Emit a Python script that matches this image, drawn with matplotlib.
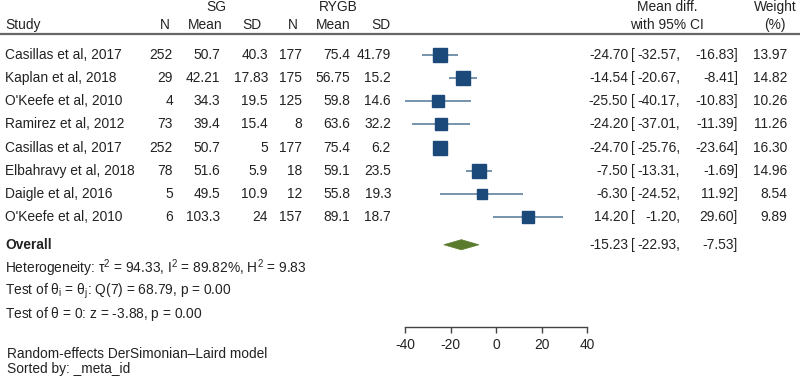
import matplotlib
matplotlib.use("Agg")
import matplotlib.pyplot as plt
from matplotlib.transforms import blended_transform_factory
from matplotlib.patches import Polygon
import numpy as np

plt.rcParams['font.family'] = ['Liberation Sans', 'DejaVu Sans']
plt.rcParams['mathtext.fontset'] = 'custom'
plt.rcParams['mathtext.rm'] = 'Liberation Sans'
plt.rcParams['mathtext.it'] = 'Liberation Sans:italic'

# ---------------- data ----------------
studies = ["Casillas et al, 2017", "Kaplan et al, 2018", "O'Keefe et al, 2010",
           "Ramirez et al, 2012", "Casillas et al, 2017", "Elbahravy et al, 2018",
           "Daigle et al, 2016", "O'Keefe et al, 2010"]
sg_n = ["252", "29", "4", "73", "252", "78", "5", "6"]
sg_mean = ["50.7", "42.21", "34.3", "39.4", "50.7", "51.6", "49.5", "103.3"]
sg_sd = ["40.3", "17.83", "19.5", "15.4", "5", "5.9", "10.9", "24"]
rygb_n = ["177", "175", "125", "8", "177", "18", "12", "157"]
rygb_mean = ["75.4", "56.75", "59.8", "63.6", "75.4", "59.1", "55.8", "89.1"]
rygb_sd = ["41.79", "15.2", "14.6", "32.2", "6.2", "23.5", "19.3", "18.7"]
est = [-24.70, -14.54, -25.50, -24.20, -24.70, -7.50, -6.30, 14.20]
lo = [-32.57, -20.67, -40.17, -37.01, -25.76, -13.31, -24.52, -1.20]
hi = [-16.83, -8.41, -10.83, -11.39, -23.64, -1.69, 11.92, 29.60]
weights = [13.97, 14.82, 10.26, 11.26, 16.30, 14.96, 8.54, 9.89]
overall_est, overall_lo, overall_hi = -15.23, -22.93, -7.53
xticks = [-40, -20, 0, 20, 40]

het_text = r"Heterogeneity: $\mathregular{\tau^2}$ = 94.33, $\mathregular{I^2}$ = 89.82%, $\mathregular{H^2}$ = 9.83"
test1_text = r"Test of $\mathregular{\theta_i}$ = $\mathregular{\theta_j}$: Q(7) = 68.79, p = 0.00"
test2_text = r"Test of $\mathregular{\theta}$ = 0: z = -3.88, p = 0.00"
note1 = "Random-effects DerSimonian\u2013Laird model"
note2 = "Sorted by: _meta_id"

# ---------------- layout ----------------
W, H = 800, 386
fig = plt.figure(figsize=(W / 100, H / 100), dpi=100)
row0_px, row_step = 55, 23.14
ax = fig.add_axes([405 / W, 0, 182 / W, 1])
ax.set_xlim(-40, 40)
ax.set_ylim((H - row0_px) / row_step, -row0_px / row_step)
ax.patch.set_alpha(0)
for s in ['top', 'left', 'right']:
    ax.spines[s].set_visible(False)
ax.spines['bottom'].set_position(('data', 11.75))
ax.spines['bottom'].set_color('#444444')
ax.spines['bottom'].set_linewidth(1.0)
ax.set_yticks([])
ax.set_xticks(xticks)
ax.set_xticklabels([str(t) for t in xticks])
fs = 9.9
ax.tick_params(axis='x', direction='out', length=4, width=1.0, color='#444444',
               labelsize=fs, pad=4, labelcolor='#222222')

sq_color = '#1b4a7a'
ci_color = '#60809e'
dia_color = '#5b7b2c'
txt_color = '#222222'

rows = np.arange(len(studies))
for i in rows:
    ax.plot([lo[i], hi[i]], [i, i], color=ci_color, lw=1.2, solid_capstyle='butt', zorder=2)
    ax.plot(est[i], i, marker='s', ms=2.67 * np.sqrt(weights[i]), color=sq_color,
            mec=sq_color, zorder=3)

orow = 8.2
dh = 0.22
ax.add_patch(Polygon([[overall_lo, orow], [overall_est, orow - dh],
                      [overall_hi, orow], [overall_est, orow + dh]],
                     closed=True, facecolor=dia_color, edgecolor=dia_color, lw=0.5, zorder=3))

tr = blended_transform_factory(fig.transFigure, ax.transData)

def T(xpx, y, s, ha='left', **kw):
    ax.text(xpx / W, y, s, transform=tr, ha=ha, va='center', fontsize=fs,
            color=txt_color, clip_on=False, **kw)

# headers
hdr1, hdr2 = -2.07, -1.30
T(216, hdr1, "SG", ha='center')
T(338, hdr1, "RYGB", ha='center')
T(5, hdr2, "Study")
T(165, hdr2, "N", ha='center')
T(205, hdr2, "Mean", ha='center')
T(252, hdr2, "SD", ha='center')
T(293, hdr2, "N", ha='center')
T(333, hdr2, "Mean", ha='center')
T(381, hdr2, "SD", ha='center')
T(667, hdr1, "Mean diff.", ha='center')
T(667, hdr2, "with 95% CI", ha='center')
T(775, hdr1, "Weight", ha='center')
T(775, hdr2, "(%)", ha='center')

# separator line
ax.plot([0, 1], [-0.91, -0.91], transform=tr, color='#666666', lw=1.6, clip_on=False)

col_x = [173, 220, 268, 302, 350, 391]
cols = [sg_n, sg_mean, sg_sd, rygb_n, rygb_mean, rygb_sd]

def ci_row(y, e, l, h):
    T(628, y, f"{e:.2f}", ha='right')
    T(631, y, "[")
    T(680, y, f"{l:.2f},", ha='right')
    T(738, y, f"{h:.2f}]", ha='right')

for i in rows:
    T(5, i, studies[i])
    for cx, col in zip(col_x, cols):
        T(cx, i, col[i], ha='right')
    ci_row(i, est[i], lo[i], hi[i])
    T(787, i, f"{weights[i]:.2f}", ha='right')

T(5, orow, "Overall", fontweight='bold')
ci_row(orow, overall_est, overall_lo, overall_hi)

T(5, 9.2, het_text)
T(5, 10.2, test1_text)
T(5, 11.2, test2_text)
T(7, 12.92, note1)
T(7, 13.57, note2)

fig.savefig("out.png", dpi=100, facecolor='white')
